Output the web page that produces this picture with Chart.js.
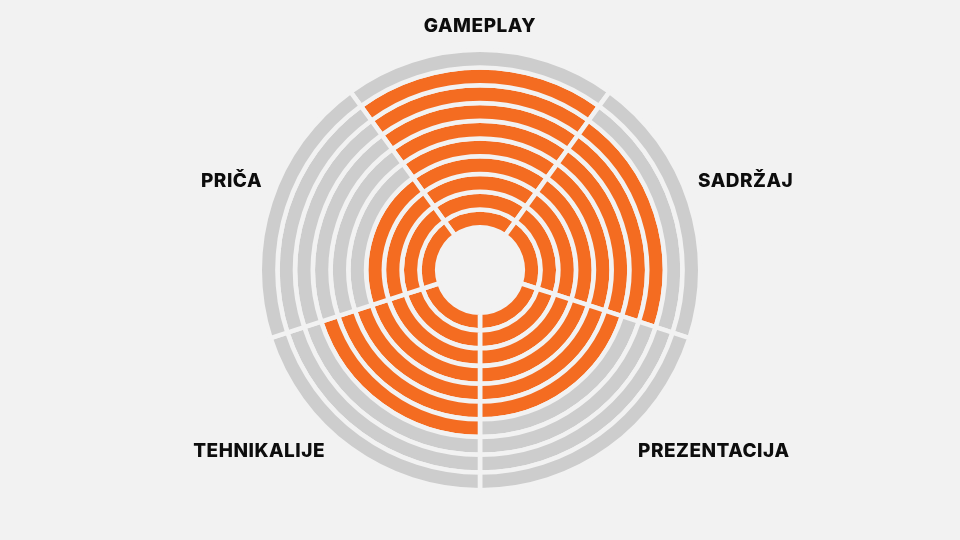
<!DOCTYPE html>
<html>
<head>
<meta charset="utf-8">
<script src="https://cdn.jsdelivr.net/npm/chart.js@4.4.0/dist/chart.umd.min.js"></script>
<style>
  html, body { margin: 0; padding: 0; background: #f2f2f2; }
  #wrap { width: 960px; height: 540px; position: relative; }
</style>
</head>
<body>
<div id="wrap"><canvas id="chart"></canvas></div>
<script>
// categories, clockwise from the top
const categories = ["GAMEPLAY", "SADRŽAJ", "PREZENTACIJA", "TEHNIKALIJE", "PRIČA"];
// score out of 10 for each category
const scores = [9, 8, 6, 7, 4];
const maxScore = 10;

const ORANGE = "#f46c21";
const GRAY = "#cdcdcd";
const BG = "#f2f2f2";

// one ring per score level, outermost first (Chart.js draws dataset 0 outside)
const datasets = [];
for (let level = maxScore; level >= 1; level--) {
  datasets.push({
    label: "level " + level,
    data: categories.map(() => 1),
    backgroundColor: scores.map((s) => (s >= level ? ORANGE : GRAY)),
    borderColor: BG,
    borderWidth: 4.6,
    hoverOffset: 0,
    offset: 0,
  });
}

// label anchors relative to the chart centre
const labelSpots = [
  { dx: 0, dy: -238, align: "center" },
  { dx: 218, dy: -83, align: "left" },
  { dx: 158, dy: 187, align: "left" },
  { dx: -155, dy: 187, align: "right" },
  { dx: -218, dy: -83, align: "right" },
];

const labelPlugin = {
  id: "categoryLabels",
  afterDraw(chart) {
    const { ctx, chartArea } = chart;
    const cx = (chartArea.left + chartArea.right) / 2;
    const cy = (chartArea.top + chartArea.bottom) / 2;
    ctx.save();
    ctx.fillStyle = "#0d0d0d";
    ctx.font = "800 19px Inter, 'Noto Sans', sans-serif";
    ctx.letterSpacing = "0.5px";
    ctx.textBaseline = "alphabetic";
    categories.forEach((name, i) => {
      const spot = labelSpots[i];
      ctx.textAlign = spot.align;
      ctx.fillText(name, cx + spot.dx, cy + spot.dy);
    });
    ctx.restore();
  },
};

new Chart(document.getElementById("chart"), {
  type: "doughnut",
  data: { labels: categories, datasets: datasets },
  options: {
    responsive: true,
    maintainAspectRatio: false,
    animation: false,
    rotation: -36,
    radius: 220.3,
    cutout: "19.4%",
    plugins: {
      legend: { display: false },
      tooltip: { enabled: false },
    },
  },
  plugins: [labelPlugin],
});
</script>
</body>
</html>
